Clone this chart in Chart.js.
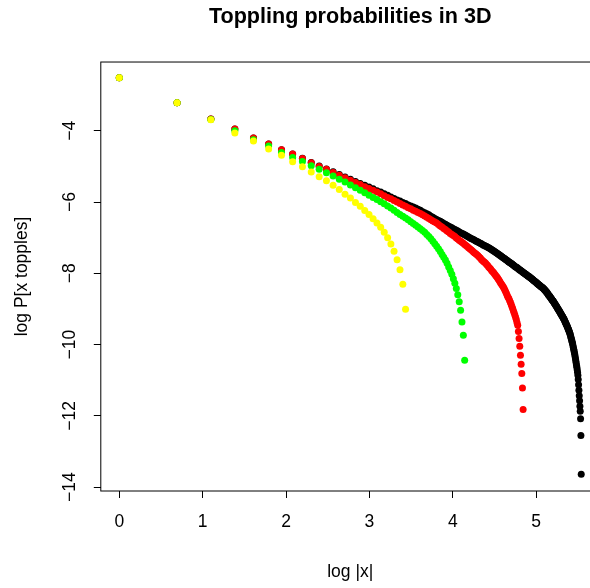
<!DOCTYPE html>
<html>
<head>
<meta charset="utf-8">
<script src="https://cdn.jsdelivr.net/npm/chart.js@4.4.1/dist/chart.umd.min.js"></script>
<style>
  html, body { margin: 0; padding: 0; background: #fff; overflow: hidden; }
  #wrap { width: 620px; height: 588px; }
</style>
</head>
<body>
<div id="wrap"><canvas id="ChartA" width="620" height="588"></canvas></div>
<script>
// log P[x topples] for |x| = 1, 2, 3, ... (one array per system size)
let yellowVals = [
  -2.51,-3.21,-3.69,-4.06,-4.29,-4.51,-4.69,-4.87,-5.01,-5.16,
  -5.29,-5.40,-5.53,-5.65,-5.78,-5.89,-6.01,-6.12,-6.24,-6.35,
  -6.47,-6.59,-6.71,-6.85,-7.00,-7.18,-7.38,-7.62,-7.90,-8.31,
  -9.01];

let greenVals = [
  -2.51,-3.21,-3.68,-4.00,-4.25,-4.43,-4.61,-4.75,-4.86,-4.98,
  -5.08,-5.18,-5.27,-5.36,-5.44,-5.52,-5.60,-5.67,-5.74,-5.81,
  -5.87,-5.93,-5.99,-6.05,-6.11,-6.17,-6.23,-6.29,-6.35,-6.40,
  -6.45,-6.50,-6.55,-6.60,-6.65,-6.70,-6.75,-6.80,-6.85,-6.91,
  -6.97,-7.03,-7.10,-7.17,-7.24,-7.31,-7.39,-7.47,-7.55,-7.63,
  -7.72,-7.82,-7.92,-8.03,-8.15,-8.28,-8.43,-8.60,-8.80,-9.04,
  -9.37,-9.74,-10.44];

let redVals = [
  -2.51,-3.21,-3.67,-3.95,-4.20,-4.37,-4.53,-4.65,-4.78,-4.90,
  -5.00,-5.08,-5.17,-5.25,-5.32,-5.39,-5.45,-5.51,-5.57,-5.62,
  -5.67,-5.72,-5.77,-5.82,-5.87,-5.91,-5.96,-6.00,-6.04,-6.08,
  -6.12,-6.16,-6.19,-6.23,-6.26,-6.29,-6.32,-6.36,-6.39,-6.43,
  -6.46,-6.50,-6.53,-6.56,-6.59,-6.63,-6.67,-6.70,-6.74,-6.77,
  -6.81,-6.84,-6.88,-6.91,-6.94,-6.97,-7.01,-7.04,-7.07,-7.10,
  -7.13,-7.16,-7.19,-7.22,-7.25,-7.28,-7.31,-7.34,-7.37,-7.40,
  -7.43,-7.45,-7.48,-7.51,-7.54,-7.57,-7.61,-7.64,-7.67,-7.69,
  -7.72,-7.75,-7.78,-7.82,-7.85,-7.88,-7.92,-7.95,-7.98,-8.01,
  -8.05,-8.08,-8.11,-8.15,-8.19,-8.23,-8.27,-8.31,-8.34,-8.38,
  -8.42,-8.47,-8.52,-8.57,-8.62,-8.67,-8.71,-8.76,-8.81,-8.87,
  -8.93,-8.99,-9.05,-9.11,-9.17,-9.23,-9.30,-9.38,-9.46,-9.63,
  -9.83,-10.05,-10.30,-10.55,-10.81,-11.22,-11.82];

let blackVals = [
  -2.51,-3.21,-3.67,-3.95,-4.20,-4.37,-4.53,-4.65,-4.77,-4.89,
  -4.99,-5.07,-5.15,-5.23,-5.30,-5.36,-5.42,-5.48,-5.53,-5.58,
  -5.63,-5.68,-5.72,-5.77,-5.81,-5.86,-5.90,-5.94,-5.97,-6.01,
  -6.04,-6.08,-6.11,-6.14,-6.17,-6.20,-6.23,-6.27,-6.30,-6.33,
  -6.36,-6.40,-6.43,-6.46,-6.49,-6.52,-6.54,-6.57,-6.60,-6.62,
  -6.65,-6.68,-6.70,-6.72,-6.75,-6.77,-6.79,-6.81,-6.84,-6.86,
  -6.88,-6.90,-6.92,-6.94,-6.96,-6.98,-7.00,-7.02,-7.04,-7.05,
  -7.07,-7.09,-7.11,-7.12,-7.14,-7.16,-7.17,-7.19,-7.21,-7.22,
  -7.24,-7.25,-7.27,-7.28,-7.30,-7.32,-7.33,-7.35,-7.37,-7.39,
  -7.40,-7.42,-7.44,-7.46,-7.47,-7.49,-7.51,-7.53,-7.54,-7.56,
  -7.58,-7.59,-7.61,-7.63,-7.64,-7.66,-7.68,-7.69,-7.71,-7.72,
  -7.74,-7.75,-7.77,-7.79,-7.80,-7.82,-7.83,-7.84,-7.86,-7.87,
  -7.89,-7.90,-7.92,-7.93,-7.94,-7.96,-7.97,-7.99,-8.00,-8.01,
  -8.03,-8.04,-8.05,-8.07,-8.08,-8.09,-8.10,-8.12,-8.13,-8.14,
  -8.16,-8.17,-8.18,-8.20,-8.21,-8.22,-8.24,-8.25,-8.26,-8.28,
  -8.29,-8.30,-8.32,-8.33,-8.34,-8.35,-8.37,-8.38,-8.39,-8.40,
  -8.41,-8.43,-8.44,-8.46,-8.47,-8.49,-8.51,-8.52,-8.54,-8.56,
  -8.58,-8.60,-8.62,-8.63,-8.65,-8.67,-8.69,-8.71,-8.73,-8.75,
  -8.76,-8.78,-8.80,-8.82,-8.84,-8.86,-8.88,-8.90,-8.92,-8.94,
  -8.96,-8.98,-9.00,-9.02,-9.04,-9.06,-9.08,-9.10,-9.12,-9.14,
  -9.16,-9.18,-9.20,-9.22,-9.24,-9.26,-9.28,-9.30,-9.33,-9.35,
  -9.38,-9.40,-9.43,-9.45,-9.48,-9.50,-9.53,-9.56,-9.58,-9.61,
  -9.64,-9.67,-9.70,-9.74,-9.78,-9.82,-9.86,-9.90,-9.94,-9.98,
  -10.03,-10.08,-10.13,-10.18,-10.23,-10.28,-10.34,-10.40,-10.46,-10.52,
  -10.58,-10.64,-10.71,-10.78,-10.86,-10.98,-11.13,-11.28,-11.44,-11.58,
  -11.73,-11.87,-12.08,-12.55,-13.64];

let xTicks = [0, 1, 2, 3, 4, 5];
let yTicks = [-4, -6, -8, -10, -12, -14];

// points sit at x = log|x|, |x| = 1..N
function toPoints(vals)
{
  return vals.map(function (v, i) { return { x: Math.log(i + 1), y: v }; });
}

function makeSet(vals, color, order)
{
  return {
    data: toPoints(vals),
    backgroundColor: color,
    borderWidth: 0,
    pointRadius: 3.5,
    order: order
  };
}

let boxPlugin = {
  id: 'box',
  afterDraw: function (chart) {
    let a = chart.chartArea;
    let ctx = chart.ctx;
    ctx.save();
    ctx.strokeStyle = '#000';
    ctx.lineWidth = 1;
    ctx.strokeRect(a.left, a.top, a.right - a.left, a.bottom - a.top);
    ctx.restore();
  }
};

Chart.defaults.font.family = '"Liberation Sans", Arial, Helvetica, sans-serif';
Chart.defaults.font.size = 17.5;
Chart.defaults.color = '#000';

let tickGrid = {
  display: true,
  drawOnChartArea: false,
  drawTicks: true,
  tickLength: 7,
  color: '#000',
  lineWidth: 1
};

let ctx = document.getElementById('ChartA').getContext('2d');
let myChart = new Chart(ctx, {
  type: 'scatter',
  data: {
    datasets: [
      makeSet(blackVals, '#000000', 4),
      makeSet(redVals, '#ff0000', 3),
      makeSet(greenVals, '#00ff00', 2),
      makeSet(yellowVals, '#ffff00', 1)
    ]
  },
  options: {
    responsive: false,
    animation: false,
    devicePixelRatio: 1,
    events: [],
    layout: { padding: { left: 0, right: 20.3, top: 0, bottom: 0 } },
    plugins: {
      legend: { display: false },
      tooltip: { enabled: false },
      title: {
        display: true,
        text: 'Toppling probabilities in 3D',
        fullSize: false,
        color: '#000',
        font: { size: 21.6, weight: 'bold' },
        padding: { top: 4, bottom: 32.1 }
      }
    },
    scales: {
      x: {
        type: 'linear',
        min: -0.2217,
        max: 5.7628,
        afterBuildTicks: function (axis) {
          axis.ticks = xTicks.map(function (v) { return { value: v }; });
        },
        afterFit: function (axis) { axis.height = 97; },
        grid: tickGrid,
        border: { display: false },
        ticks: { padding: 13.5, maxRotation: 0, color: '#000' },
        title: { display: true, text: 'log |x|', padding: { top: 0, bottom: 5.5 }, color: '#000' }
      },
      y: {
        type: 'linear',
        min: -14.11,
        max: -2.07,
        afterBuildTicks: function (axis) {
          axis.ticks = yTicks.map(function (v) { return { value: v }; });
        },
        afterFit: function (axis) { axis.width = 100.8; },
        grid: tickGrid,
        border: { display: false },
        ticks: {
          padding: 9,
          minRotation: 90,
          maxRotation: 90,
          crossAlign: 'center',
          color: '#000',
          callback: function (v) { return String(v).replace('-', '\u2212'); }
        },
        title: { display: true, text: 'log P[x topples]', padding: { top: 12, bottom: 0 }, color: '#000' }
      }
    }
  },
  plugins: [boxPlugin]
});
</script>
</body>
</html>
